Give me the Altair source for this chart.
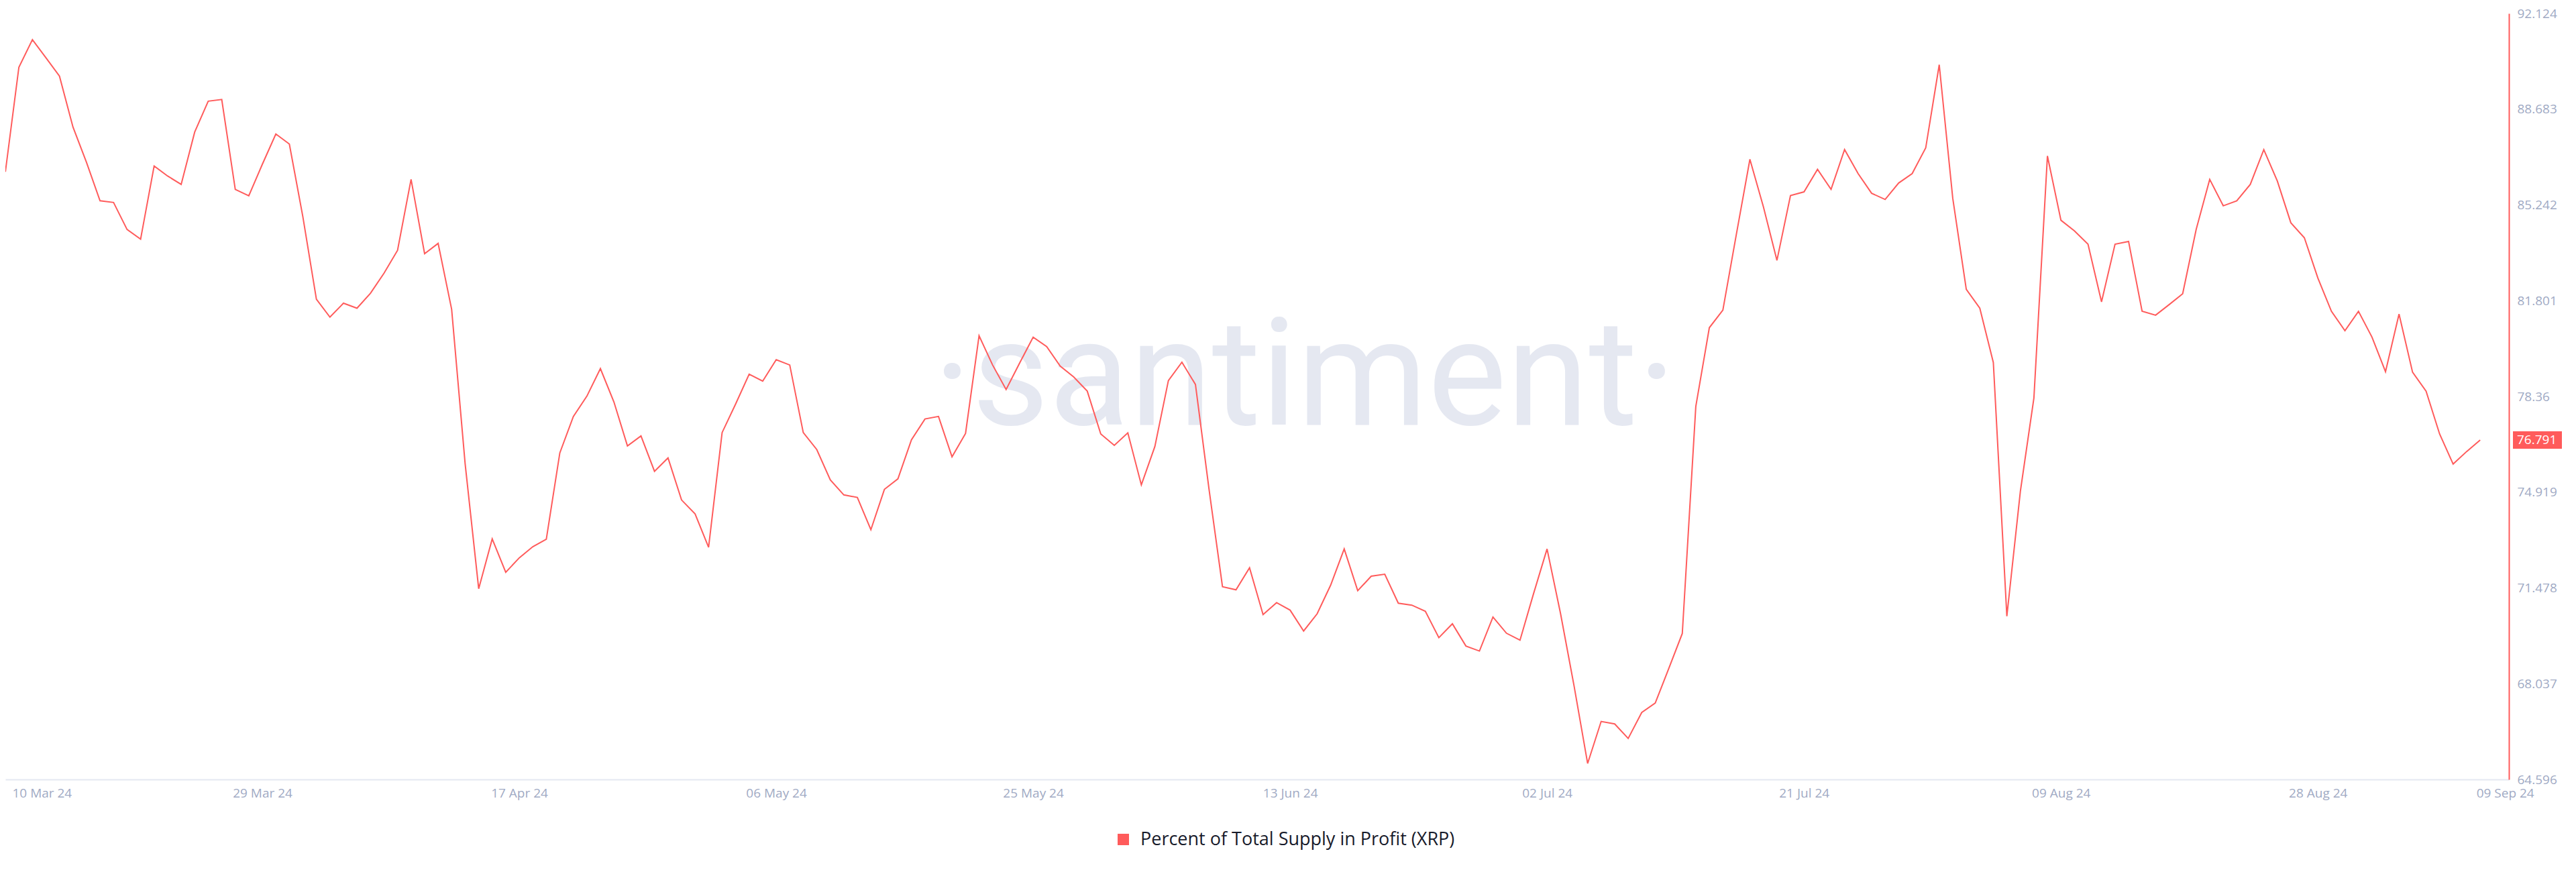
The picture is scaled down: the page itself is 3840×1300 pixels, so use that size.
import altair as alt
import pandas as pd

# ---------------- data ----------------
dates = [d.strftime("%Y-%m-%dT00:00:00") for d in pd.date_range("2024-03-10", periods=184, freq="D")]

values = [
    86.43, 90.19, 91.18, 90.53, 89.87, 88.04, 86.77, 85.39, 85.33, 84.36,
    84.01, 86.64, 86.28, 85.98, 87.86, 88.97, 89.03, 85.80, 85.57, 86.70,
    87.79, 87.43, 84.81, 81.85, 81.21, 81.71, 81.53, 82.07, 82.79, 83.61,
    86.16, 83.49, 83.86, 81.49, 75.93, 71.45, 73.24, 72.04, 72.56, 72.96,
    73.23, 76.33, 77.64, 78.37, 79.36, 78.16, 76.58, 76.94, 75.67, 76.15,
    74.64, 74.14, 72.94, 77.06, 78.09, 79.16, 78.91, 79.68, 79.49, 77.06,
    76.45, 75.36, 74.82, 74.73, 73.57, 75.02, 75.40, 76.80, 77.55, 77.64,
    76.19, 77.03, 80.54, 79.49, 78.61, 79.56, 80.49, 80.15, 79.45, 79.06,
    78.55, 77.01, 76.60, 77.05, 75.18, 76.56, 78.93, 79.59, 78.79, 75.04,
    71.52, 71.41, 72.20, 70.52, 70.95, 70.68, 69.93, 70.55, 71.58, 72.88,
    71.38, 71.90, 71.97, 70.93, 70.86, 70.64, 69.69, 70.19, 69.39, 69.21,
    70.43, 69.85, 69.60, 71.27, 72.88, 70.55, 67.95, 65.17, 66.68, 66.59,
    66.07, 67.00, 67.34, 68.58, 69.84, 78.00, 80.83, 81.46, 84.19, 86.88,
    85.17, 83.25, 85.58, 85.71, 86.52, 85.80, 87.23, 86.37, 85.66, 85.44,
    86.03, 86.37, 87.29, 90.28, 85.48, 82.21, 81.53, 79.58, 70.46, 74.95,
    78.30, 87.00, 84.69, 84.31, 83.83, 81.76, 83.83, 83.93, 81.42, 81.28,
    81.66, 82.05, 84.36, 86.16, 85.21, 85.39, 85.98, 87.23, 86.10, 84.60,
    84.06, 82.61, 81.42, 80.72, 81.42, 80.49, 79.25, 81.32, 79.23, 78.55,
    77.01, 75.93, 76.38, 76.791,
]

series_name = "Percent of Total Supply in Profit (XRP)"
watermark = "·santiment·"

y_ticks = [64.596, 68.037, 71.478, 74.919, 78.36, 81.801, 85.242, 88.683, 92.124]
x_tick_days = [(3, 10), (3, 29), (4, 17), (5, 6), (5, 25), (6, 13), (7, 2), (7, 21), (8, 9), (8, 28), (9, 9)]

# ---------------- styling ----------------
RED = "#ff5b5b"
AXIS_TXT = "#9faac4"
W, H = 3732, 1142

df = pd.DataFrame({"date": dates, "value": values, "series": series_name})
last_df = pd.DataFrame({"value": [values[-1]], "label": [f"{values[-1]:.3f}"]})
wm_df = pd.DataFrame({"t": [watermark]})

x_scale = alt.Scale(
    domain=[alt.DateTime(year=2024, month=3, date=10),
            alt.DateTime(year=2024, month=9, date=11, hours=3)]
)
y_scale = alt.Scale(domain=[y_ticks[0], y_ticks[-1]], nice=False, zero=False)

x_axis = alt.Axis(
    values=[alt.DateTime(year=2024, month=m, date=d) for m, d in x_tick_days],
    format="%d %b %y",
    title=None,
    grid=False,
    ticks=False,
    tickSize=0,
    domainColor="#e4e8f1",
    domainWidth=2,
    labelColor=AXIS_TXT,
    labelFont="Open Sans",
    labelFontSize=19,
    labelPadding=11,
    labelFlush=False,
    labelOverlap=False,
    labelAlign={"condition": {"test": "datum.index == 0 || datum.index == 1", "value": "left"}, "value": "center"},
    labelOffset={"condition": [{"test": "datum.index == 0", "value": 10},
                               {"test": "datum.index == 1", "value": -6}], "value": 0},
)

y_axis = alt.Axis(
    orient="right",
    values=y_ticks,
    format=".3~f",
    title=None,
    grid=False,
    ticks=False,
    tickSize=0,
    domainColor=RED,
    domainWidth=2,
    labelColor=AXIS_TXT,
    labelFont="Open Sans",
    labelFontSize=19,
    labelPadding=12,
    labelAlign="left",
    labelBaseline="middle",
    labelOverlap=False,
)

wm = alt.Chart(wm_df).mark_text(
    font="Roboto",
    fontSize=222,
    color="#e5e8f1",
    align="center",
    baseline="alphabetic",
).encode(x=alt.value(1937), y=alt.value(613), text="t:N")

line = alt.Chart(df).mark_line(strokeWidth=2).encode(
    x=alt.X("date:T", scale=x_scale, axis=x_axis),
    y=alt.Y("value:Q", scale=y_scale, axis=y_axis),
    color=alt.Color(
        "series:N",
        scale=alt.Scale(domain=[series_name], range=[RED]),
        legend=alt.Legend(
            orient="none",
            legendX=1653,
            legendY=1218,
            title=None,
            direction="horizontal",
            symbolType="square",
            symbolSize=289,
            symbolFillColor=RED,
            symbolStrokeColor=RED,
            symbolStrokeWidth=0,
            labelFont="Open Sans",
            labelFontSize=27,
            labelColor="#181b2b",
            labelOffset=12,
            labelLimit=2000,
            padding=0,
        ),
    ),
)

badge = alt.Chart(last_df).mark_tick(
    orient="horizontal", size=73, thickness=26, color=RED, opacity=1
).encode(x=alt.value(W + 42.5), y=alt.Y("value:Q", scale=y_scale, axis=y_axis))

badge_txt = alt.Chart(last_df).mark_text(
    align="left", baseline="middle", color="white", font="Open Sans", fontSize=19
).encode(x=alt.value(W + 12), y=alt.Y("value:Q", scale=y_scale, axis=y_axis), text="label:N")

chart = alt.layer(wm, line, badge, badge_txt).properties(
    width=W,
    height=H,
    padding={"left": 0, "top": 12, "right": 90, "bottom": 124},
    autosize=alt.AutoSizeParams(type="none"),
    background="white",
).configure_view(stroke="transparent")

chart.save("out.html", embed_options={"renderer": "svg", "actions": False})
